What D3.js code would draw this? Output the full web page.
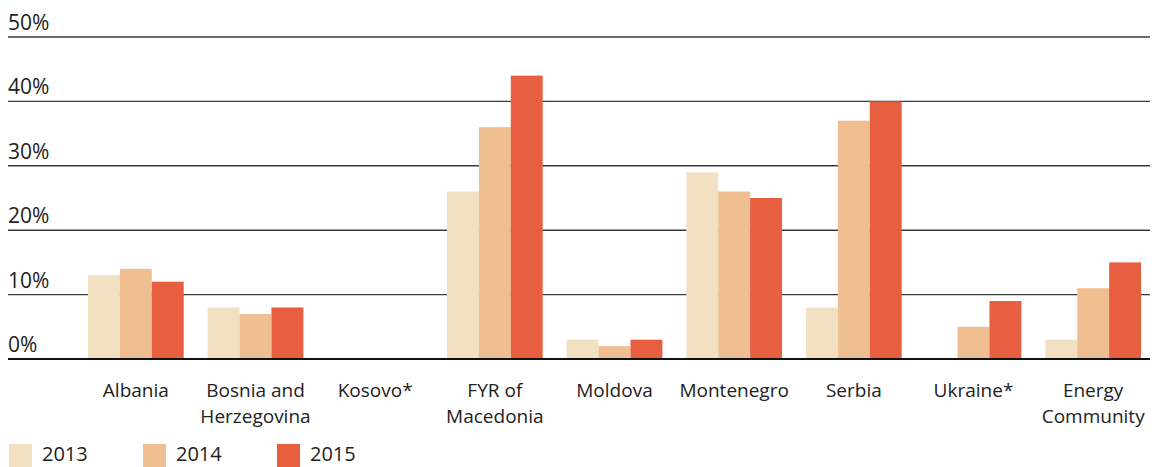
<!DOCTYPE html>
<html>
<head>
<meta charset="utf-8">
<script src="https://cdn.jsdelivr.net/npm/d3@7"></script>
<style>
  body { margin: 0; background: #fff; }
  text { font-family: "Open Sans", sans-serif; fill: #222; }
</style>
</head>
<body>
<svg id="chart"></svg>
<script>
var categories = ["Albania", "Bosnia and|Herzegovina", "Kosovo*", "FYR of|Macedonia", "Moldova",
    "Montenegro", "Serbia", "Ukraine*", "Energy|Community"];
var years = ["2013", "2014", "2015"];
var values2013 = [13, 8, 0, 26, 3, 29, 8, 0, 3];
var values2014 = [14, 7, 0, 36, 2, 26, 37, 5, 11];
var values2015 = [12, 8, 0, 44, 3, 25, 40, 9, 15];
var yTicks = [0, 10, 20, 30, 40, 50];
var colors = ["#f1e1c2", "#efbf92", "#e85e40"];

var options = {
    width: 1154,
    height: 467,
    plotLeft: 76,
    plotRight: 1153,
    gridLeft: 8,
    gridRight: 1150,
    yTop: 37,
    yBottom: 359
};

var series = [values2013, values2014, values2015];

var svg = d3.select('#chart')
    .attr('width', options.width)
    .attr('height', options.height);

var xScale = d3.scaleBand()
    .domain(d3.range(categories.length))
    .range([options.plotLeft, options.plotRight])
    .paddingInner(0.2)
    .paddingOuter(0.1);

var xInner = d3.scaleBand()
    .domain(d3.range(years.length))
    .range([0, xScale.bandwidth()]);

var yScale = d3.scaleLinear().domain([0, 50]).range([options.yBottom, options.yTop]);

var color = d3.scaleOrdinal().domain(d3.range(years.length)).range(colors);

// gridlines + labels
var grid = svg.append('g').attr('class', 'grid');
grid.selectAll('line')
    .data(yTicks)
    .enter()
    .append('line')
    .attr('x1', options.gridLeft)
    .attr('x2', options.gridRight)
    .attr('y1', function(d){ return yScale(d); })
    .attr('y2', function(d){ return yScale(d); })
    .style('stroke', function(d){ return d === 0 ? '#111' : '#3a3a3a'; })
    .style('stroke-width', function(d){ return d === 0 ? 2 : 1.4; });

grid.selectAll('text')
    .data(yTicks)
    .enter()
    .append('text')
    .attr('x', options.gridLeft)
    .attr('y', function(d){ return yScale(d) - 7; })
    .style('font-size', '21px')
    .text(function(d){ return d + '%'; });

// bars
var groups = svg.selectAll('.group')
    .data(categories)
    .enter()
    .append('g')
    .attr('class', 'group')
    .attr('transform', function(d, i){ return 'translate(' + xScale(i) + ',0)'; });

groups.selectAll('rect')
    .data(function(d, i){ return series.map(function(s, j){ return {year: j, value: s[i]}; }); })
    .enter()
    .filter(function(d){ return d.value > 0; })
    .append('rect')
    .attr('x', function(d){ return xInner(d.year); })
    .attr('width', xInner.bandwidth())
    .attr('y', function(d){ return yScale(d.value); })
    .attr('height', function(d){ return yScale(0) - yScale(d.value); })
    .style('fill', function(d){ return color(d.year); });

// redraw baseline on top of bars
svg.append('line')
    .attr('x1', options.gridLeft)
    .attr('x2', options.gridRight)
    .attr('y1', yScale(0))
    .attr('y2', yScale(0))
    .style('stroke', '#111')
    .style('stroke-width', 2);

// category labels
groups.append('text')
    .attr('x', xScale.bandwidth() / 2)
    .attr('y', 397)
    .style('text-anchor', 'middle')
    .style('font-size', '19px')
    .selectAll('tspan')
    .data(function(d){ return d.split('|'); })
    .enter()
    .append('tspan')
    .attr('x', xScale.bandwidth() / 2)
    .attr('dy', function(d, i){ return i === 0 ? 0 : 26; })
    .text(function(d){ return d; });

// legend
var legendX = [9, 143, 277];
var legend = svg.selectAll('.legend')
    .data(years)
    .enter()
    .append('g')
    .attr('class', 'legend')
    .attr('transform', function(d, i){ return 'translate(' + legendX[i] + ',444)'; });

legend.append('rect')
    .attr('width', 23)
    .attr('height', 23)
    .style('fill', function(d, i){ return color(i); });

legend.append('text')
    .attr('x', 33)
    .attr('y', 17)
    .style('font-size', '20px')
    .text(function(d){ return d; });
</script>
</body>
</html>
